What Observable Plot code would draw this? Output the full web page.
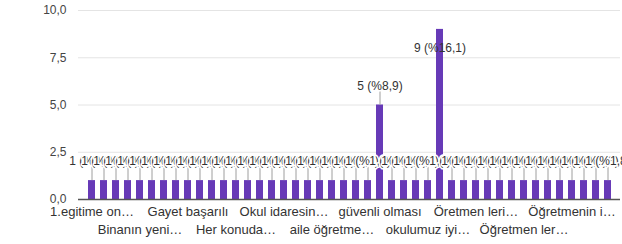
<!DOCTYPE html>
<html>
<head>
<meta charset="utf-8">
<script src="https://cdn.jsdelivr.net/npm/d3@7"></script>
<script src="https://cdn.jsdelivr.net/npm/@observablehq/plot@0.6"></script>
<style>
  html, body { margin: 0; padding: 0; background: #fff; }
  #chart svg { display: block; }
</style>
</head>
<body>
<div id="chart"></div>
<script>
// Response counts per answer (44 answers, total 56)
const values = [
  1, 1, 1, 1, 1, 1, 1, 1, 1, 1, 1, 1, 1, 1, 1, 1, 1, 1, 1, 1, 1, 1, 1, 1,
  5,
  1, 1, 1, 1,
  9,
  1, 1, 1, 1, 1, 1, 1, 1, 1, 1, 1, 1, 1, 1
];
// Visible (truncated) category labels, shown on every 4th bar
const tickLabels = [
  "1.egitime on…", "Binanın yeni…", "Gayet başarılı", "Her konuda…",
  "Okul idaresin…", "aile öğretme…", "güvenli olması", "okulumuz iyi…",
  "Öretmen leri…", "Öğretmen ler…", "Öğretmenin i…"
];
const yTicks = [0, 2.5, 5, 7.5, 10];

const total = d3.sum(values);
const data = values.map((v, i) => ({
  i, v,
  label: `${v} (%${(v / total * 100).toFixed(1).replace(".", ",")})`
}));
const ticks = tickLabels.map((t, k) => ({ i: k * 4, t, row: k % 2 }));
const row1 = ticks.filter(d => d.row === 0);
const row2 = ticks.filter(d => d.row === 1);
const above = data.filter(d => d.v < 8);
const inside = data.filter(d => d.v >= 8);

const chart = Plot.plot({
  width: 622,
  height: 244,
  marginLeft: 78,
  marginRight: 2,
  marginTop: 10,
  marginBottom: 45,
  style: { fontFamily: "Arial, 'Liberation Sans', sans-serif", fontSize: "12px", color: "#444", background: "#fff" },
  x: { type: "band", domain: d3.range(values.length), paddingInner: 0.43, paddingOuter: 0.29, axis: null },
  y: { domain: [0, 10], axis: null },
  marks: [
    Plot.gridY(yTicks.slice(1), { stroke: "#e4e4e4", strokeOpacity: 1 }),
    Plot.axisY(yTicks, {
      label: null, tickSize: 0, tickPadding: 12, fill: "#444", fontSize: 12,
      tickFormat: d => d.toFixed(1).replace(".", ",")
    }),
    Plot.barY(data, { x: "i", y: "v", fill: "#673ab7" }),
    Plot.ruleY([0], { stroke: "#555", strokeWidth: 1.5 }),
    Plot.ruleX(above, { x: "i", y1: "v", y2: d => d.v + 0.7, stroke: "#9e9e9e", strokeWidth: 1 }),
    Plot.text(above, {
      x: "i", y: "v", text: "label", dy: -19, fill: "#333", fontSize: 12,
      stroke: "white", strokeWidth: 3, paintOrder: "stroke"
    }),
    Plot.text(inside, {
      x: "i", y: "v", text: "label", dy: 19, fill: "#333", fontSize: 12
    }),
    Plot.text(row1, { x: "i", text: "t", frameAnchor: "bottom", dy: 16, fill: "#333", fontSize: 13 }),
    Plot.text(row2, { x: "i", text: "t", frameAnchor: "bottom", dy: 34, fill: "#333", fontSize: 13 })
  ]
});
document.getElementById("chart").appendChild(chart);
</script>
</body>
</html>
